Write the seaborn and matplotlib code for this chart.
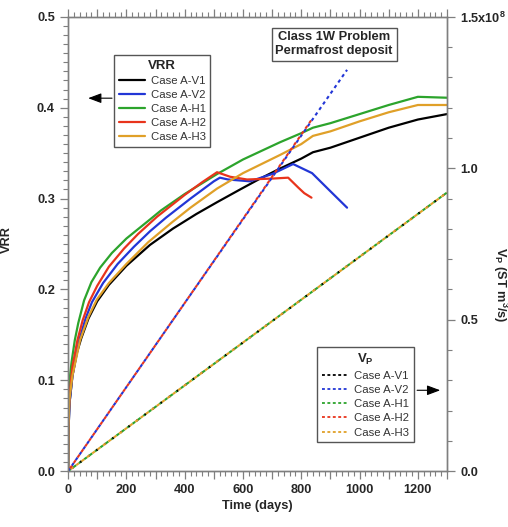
import numpy as np
import pandas as pd
import matplotlib
matplotlib.use("Agg")
import matplotlib.pyplot as plt
import seaborn as sns
from matplotlib.ticker import MultipleLocator, FuncFormatter
from matplotlib.lines import Line2D

# ---------------- data ----------------
cases = ["Case A-V1", "Case A-V2", "Case A-H1", "Case A-H2", "Case A-H3"]
colors = ["#000000", "#2236d6", "#2ca42c", "#e8341c", "#e0a028"]

# VRR curves (left axis)
t_v1 = [0, 1, 5, 15, 30, 45, 70, 100, 140, 200, 281, 360, 440, 511, 590, 659, 727, 800, 840, 900, 1000, 1100, 1200, 1300]
vrr_v1 = [0, 0.04, 0.075, 0.105, 0.130, 0.146, 0.168, 0.187, 0.205, 0.226, 0.249, 0.267, 0.283, 0.296, 0.310, 0.322, 0.333, 0.344, 0.351, 0.356, 0.367, 0.378, 0.387, 0.393]

t_v2 = [0, 1, 5, 15, 38, 60, 82, 120, 170, 226, 281, 336, 420, 500, 521, 549, 624, 700, 772, 837, 900, 957]
vrr_v2 = [0, 0.04, 0.075, 0.105, 0.144, 0.168, 0.186, 0.207, 0.228, 0.247, 0.264, 0.279, 0.300, 0.319, 0.323, 0.321, 0.319, 0.327, 0.338, 0.328, 0.308, 0.290]

t_h1 = [0, 1, 5, 12, 23, 35, 55, 80, 110, 150, 200, 281, 319, 400, 511, 600, 727, 800, 840, 900, 1000, 1100, 1200, 1300]
vrr_h1 = [0, 0.07, 0.10, 0.12, 0.144, 0.163, 0.188, 0.208, 0.224, 0.240, 0.256, 0.277, 0.287, 0.305, 0.327, 0.343, 0.362, 0.372, 0.378, 0.383, 0.393, 0.403, 0.412, 0.411]

t_h2 = [0, 1, 5, 15, 32, 50, 72, 100, 140, 192, 240, 305, 400, 460, 511, 556, 614, 700, 755, 790, 810, 835]
vrr_h2 = [0, 0.05, 0.085, 0.115, 0.144, 0.166, 0.186, 0.204, 0.225, 0.245, 0.261, 0.280, 0.304, 0.318, 0.329, 0.324, 0.321, 0.322, 0.323, 0.312, 0.306, 0.301]

t_h3 = [0, 1, 5, 15, 41, 70, 99, 140, 200, 275, 357, 420, 511, 600, 727, 800, 840, 900, 1000, 1100, 1200, 1300]
vrr_h3 = [0, 0.05, 0.08, 0.105, 0.144, 0.170, 0.189, 0.207, 0.228, 0.252, 0.274, 0.290, 0.311, 0.328, 0.348, 0.360, 0.369, 0.374, 0.385, 0.395, 0.403, 0.403]

# Vp curves (right axis, units of 1e8 ST m3/s)
tp_v1 = [0, 650, 1300]
vp_v1 = [0, 0.46, 0.92]
tp_v2 = [0, 400, 957]
vp_v2 = [0, 0.555, 1.325]
tp_h1 = [0, 650, 1300]
vp_h1 = [0, 0.46, 0.92]
tp_h2 = [0, 400, 835]
vp_h2 = [0, 0.555, 1.16]
tp_h3 = [0, 650, 1300]
vp_h3 = [0, 0.46, 0.92]

x_ticks_labeled = [0, 200, 400, 600, 800, 1000, 1200]

# ---------------- style ----------------
sns.set_style("ticks")
plt.rcParams["font.family"] = ["Liberation Sans", "DejaVu Sans"]
plt.rcParams["font.weight"] = "bold"
plt.rcParams["axes.labelweight"] = "bold"
plt.rcParams["mathtext.fontset"] = "custom"
plt.rcParams["mathtext.rm"] = "Liberation Sans:bold"
plt.rcParams["mathtext.it"] = "Liberation Sans:bold"
plt.rcParams["mathtext.bf"] = "Liberation Sans:bold"
plt.rcParams["mathtext.default"] = "bf"

GRAY = "#7f7f7f"

fig = plt.figure(figsize=(5.08, 5.27), dpi=100)
ax = fig.add_axes([0.134, 0.106, 0.746, 0.862])
ax2 = ax.twinx()

vrr_t = [t_v1, t_v2, t_h1, t_h2, t_h3]
vrr_v = [vrr_v1, vrr_v2, vrr_h1, vrr_h2, vrr_h3]
df = pd.concat([pd.DataFrame({"t": t, "v": v, "case": c}) for t, v, c in zip(vrr_t, vrr_v, cases)],
               ignore_index=True)
sns.lineplot(data=df, x="t", y="v", hue="case", hue_order=cases, palette=colors,
             estimator=None, sort=False, legend=False, lw=1.6, ax=ax)

# Vp dashed lines; offsets let overlapping colors alternate
vp_sets = [
    (tp_h1, vp_h1, colors[2], (0, (1.6, 1.6))),
    (tp_v1, vp_v1, colors[0], (2.4, (0.8, 4.0))),
    (tp_h3, vp_h3, colors[4], (1.6, (1.6, 1.6))),
    (tp_v2, vp_v2, colors[1], (0, (1.6, 1.6))),
    (tp_h2, vp_h2, colors[3], (1.6, (1.6, 1.6))),
]
for t, v, c, ls in vp_sets:
    sns.lineplot(x=t, y=v, color=c, linestyle=ls, lw=1.5, ax=ax2, estimator=None, sort=False)

# ---------------- axes ----------------
ax.set_xlim(0, 1300)
ax.set_ylim(0, 0.5)
ax2.set_ylim(0, 1.5)

ax.xaxis.set_major_locator(MultipleLocator(100))
ax.xaxis.set_minor_locator(MultipleLocator(20))
ax.xaxis.set_major_formatter(FuncFormatter(lambda v, p: f"{int(round(v))}" if int(round(v)) in x_ticks_labeled else ""))
ax.yaxis.set_major_locator(MultipleLocator(0.1))
ax.yaxis.set_minor_locator(MultipleLocator(0.01))
ax.yaxis.set_major_formatter(FuncFormatter(lambda v, p: f"{v:.1f}"))

ax2.yaxis.set_major_locator(MultipleLocator(0.5))
ax2.yaxis.set_minor_locator(MultipleLocator(0.1))
ax2.yaxis.set_major_formatter(FuncFormatter(lambda v, p: "1.5x10$^{8}$" if abs(v - 1.5) < 1e-6 else f"{v:.1f}"))

ax.tick_params(axis="both", which="both", direction="out", color=GRAY, labelsize=9.2,
               top=True, right=False, left=True, bottom=True)
ax.tick_params(which="major", length=6, width=0.9)
ax.tick_params(which="minor", length=3.5, width=0.8)
ax2.tick_params(axis="y", which="both", direction="out", color=GRAY, labelsize=9.2)
ax2.tick_params(which="major", length=6, width=0.9)
ax2.tick_params(which="minor", length=3.5, width=0.8)

for a in (ax, ax2):
    for s in a.spines.values():
        s.set_color(GRAY)
        s.set_linewidth(1.0)
        s.set_visible(True)

ax.set_xlabel("Time (days)", fontsize=9.2, fontweight="bold", labelpad=3)
ax.set_ylabel("VRR", fontsize=9.2, fontweight="bold")
ax.yaxis.set_label_coords(-0.145, 0.51)
ax2.set_ylabel("V$_P$ (ST m$^3$/s)", fontsize=9.2, fontweight="bold", rotation=270, va="center")
ax2.yaxis.set_label_coords(1.14, 0.41)

# ---------------- legends ----------------
h_vrr = [Line2D([], [], color=c, lw=1.6) for c in colors]
leg1 = ax.legend(h_vrr, cases, title="VRR", loc="upper left", bbox_to_anchor=(0.121, 0.916),
                 borderaxespad=0, frameon=True, fancybox=False, framealpha=1, edgecolor="#555555",
                 prop={"size": 8.2, "weight": "normal"}, handlelength=2.3, handletextpad=0.5,
                 labelspacing=0.36, borderpad=0.42,
                 title_fontproperties={"size": 9.5, "weight": "bold"})
leg1.get_frame().set_linewidth(1.0)
for txt in leg1.get_texts():
    txt.set_color("#333333")
ax.add_artist(leg1)

h_vp = [Line2D([], [], color=c, lw=1.3, linestyle=(0, (1.6, 1.4))) for c in colors]
leg2 = ax.legend(h_vp, cases, title="V$_P$", loc="upper left", bbox_to_anchor=(0.657, 0.273),
                 borderaxespad=0, frameon=True, fancybox=False, framealpha=1, edgecolor="#555555",
                 prop={"size": 8.2, "weight": "normal"}, handlelength=2.3, handletextpad=0.5,
                 labelspacing=0.36, borderpad=0.42,
                 title_fontproperties={"size": 9.5, "weight": "bold"})
leg2.get_frame().set_linewidth(1.0)
for txt in leg2.get_texts():
    txt.set_color("#333333")

# arrows
ax.annotate("", xy=(0.053, 0.821), xytext=(0.116, 0.821), xycoords="axes fraction",
            arrowprops=dict(arrowstyle="-|>,head_length=0.8,head_width=0.3", color="black",
                            lw=0.8, shrinkA=0, shrinkB=0))
ax.annotate("", xy=(0.982, 0.178), xytext=(0.921, 0.178), xycoords="axes fraction",
            arrowprops=dict(arrowstyle="-|>,head_length=0.8,head_width=0.3", color="black",
                            lw=0.8, shrinkA=0, shrinkB=0))

# title box
ax.text(0.702, 0.94, "Class 1W Problem\nPermafrost deposit", transform=ax.transAxes,
        ha="center", va="center", fontsize=9.3, fontweight="bold", linespacing=1.15,
        bbox=dict(boxstyle="square,pad=0.3", fc="white", ec="#555555", lw=1.0))

fig.savefig("out.png", dpi=100)
